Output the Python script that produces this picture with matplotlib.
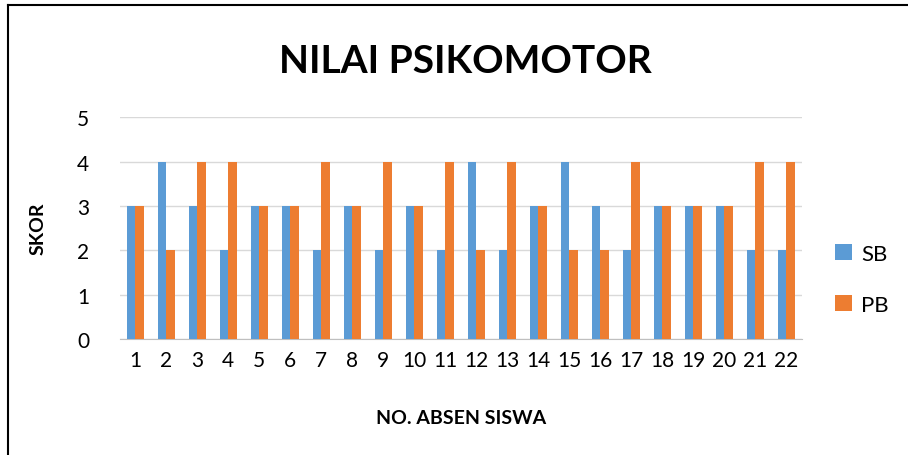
import matplotlib
matplotlib.use("Agg")
import matplotlib.pyplot as plt
import numpy as np
from matplotlib.lines import Line2D

categories = [str(i) for i in range(1, 23)]
sb = [3, 4, 3, 2, 3, 3, 2, 3, 2, 3, 2, 4, 2, 3, 4, 3, 2, 3, 3, 3, 2, 2]
pb = [3, 2, 4, 4, 3, 3, 4, 3, 4, 3, 4, 2, 4, 3, 2, 2, 4, 3, 3, 3, 4, 4]

plt.rcParams['font.family'] = ['Lato', 'DejaVu Sans']

fig = plt.figure(figsize=(9.08, 4.56), dpi=100)
ax = fig.add_axes([0.132, 0.254, 0.751, 0.487])

x = np.arange(len(categories))
w = 0.28
ax.bar(x - w / 2, sb, w, color='#5B9BD5', label='SB', zorder=3)
ax.bar(x + w / 2, pb, w, color='#ED7D31', label='PB', zorder=3)

ax.set_xlim(-0.5, len(categories) - 0.5)
ax.set_ylim(0, 5)
ax.set_yticks(range(0, 6))
ax.yaxis.grid(True, color='#D9D9D9', linewidth=1, zorder=0)
ax.set_xticks(x)
ax.set_xticklabels(categories)
ax.tick_params(axis='both', length=0, labelsize=15, pad=8)
ax.tick_params(axis='y', pad=22)
for s in ['top', 'right', 'left']:
    ax.spines[s].set_visible(False)
ax.spines['bottom'].set_color('#BFBFBF')

ax.set_xlabel('NO. ABSEN SISWA', fontsize=14, fontweight='bold', labelpad=28)
ax.set_ylabel('SKOR', fontsize=14, fontweight='bold', labelpad=22)
fig.text(0.512, 0.865, 'NILAI PSIKOMOTOR', ha='center', va='center',
         fontsize=28, fontweight='bold')

ax.legend(loc='center left', bbox_to_anchor=(1.02, 0.27), frameon=False,
          fontsize=16, handlelength=0.75, handleheight=0.75, labelspacing=1.4,
          handletextpad=0.4)

fig.add_artist(Line2D([0.009, 1.0], [0.987, 0.987], transform=fig.transFigure,
                      color='black', linewidth=1.5))
fig.add_artist(Line2D([0.009, 0.009], [0.987, 0.0], transform=fig.transFigure,
                      color='black', linewidth=1.5))

fig.savefig('out.png', dpi=100)
